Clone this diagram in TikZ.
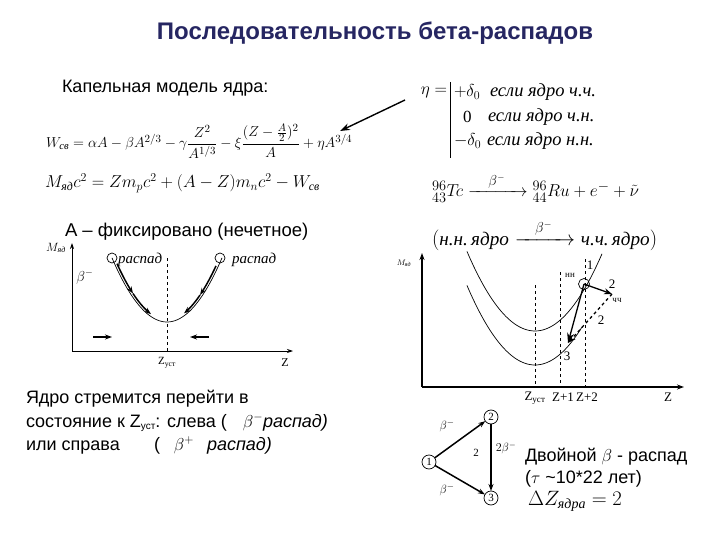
\documentclass[tikz,border=0pt]{standalone}
\usepackage{amsmath}
\usepackage{fontspec}
\setmainfont{Liberation Serif}
\newfontfamily\arial{Liberation Sans}
\usetikzlibrary{arrows.meta}
\definecolor{titlecol}{RGB}{38,38,98}
\newcommand\fsz[1]{\fontsize{#1}{#1}\selectfont}
\tikzset{
  sanstxt/.style={anchor=west,font={\arial\fsz{18}}},
  basetxt/.style={anchor=base west,font={\arial\fsz{18}}},
  mathtxt/.style={font=\fsz{#1}},
  thinaxis/.style={line width=0.8pt,-{Stealth[length=6pt,width=4pt]}},
  thickaxis/.style={line width=1.6pt,-{Stealth[length=7pt,width=5pt]}},
  dec/.style={line width=1.5pt,-{Stealth[length=7pt,width=5pt]}},
  guide/.style={dashed,line width=0.6pt},
  curve/.style={line width=0.7pt},
  dot/.style={circle,draw,line width=0.7pt,minimum size=10pt,inner sep=0pt},
  tnode/.style={circle,draw,line width=0.7pt,minimum size=14pt,inner sep=0pt,font=\fsz{11}},
}
\begin{document}
\begin{tikzpicture}[x=1pt,y=-1pt,every node/.style={inner sep=0pt,outer sep=0pt}]
\useasboundingbox (0,0) rectangle (720,540);
% title
\node[font={\arial\bfseries\fsz{24}},text=titlecol] (title) at (375,33) {Последовательность бета-распадов};
% droplet model
\node[sanstxt] (kap) at (62,88) {Капельная модель ядра:};
\node[anchor=west,mathtxt=15.2] (wf) at (46,141) {$W_{\text{\itshape св}} = \alpha A - \beta A^{2/3} - \gamma\dfrac{Z^2}{A^{1/3}} - \xi\dfrac{(Z-\frac{A}{2})^2}{A} + \eta A^{3/4}$};
\node[anchor=west,mathtxt=17] (mf) at (45,183) {$M_{\text{\itshape яд}}c^2 = Zm_pc^2 + (A-Z)m_nc^2 - W_{\text{\itshape св}}$};
\coordinate (etaTail) at (405,100);
\coordinate (etaHead) at (340,131);
\draw[line width=1.4pt,-{Stealth[length=10pt,width=7pt]}] (etaTail) -- (etaHead);
% eta cases
\node[anchor=east,mathtxt=18] (eta) at (447,92) {$\eta =$};
\draw[line width=0.7pt] (450,82) -- (450,158);
\node[anchor=west,mathtxt=17] (r1a) at (454,92) {$+\delta_0$};
\node[anchor=west,mathtxt=18.5] (r1b) at (490,92) {\itshape если ядро ч.ч.};
\node[anchor=west,mathtxt=17] (r2a) at (463,117) {0};
\node[anchor=west,mathtxt=18.5] (r2b) at (488,117) {\itshape если ядро ч.н.};
\node[anchor=west,mathtxt=17] (r3a) at (454,141) {$-\delta_0$};
\node[anchor=west,mathtxt=18.5] (r3b) at (487,141) {\itshape если ядро н.н.};
% reactions
\node[anchor=west,mathtxt=19] (tc) at (432,188) {${}^{96}_{43}T\!c \xrightarrow{\hphantom{xx}\beta^{-}\hphantom{xx}} {}^{96}_{44}Ru + e^{-} + \tilde{\nu}$};
\node[anchor=west,mathtxt=19.2] (nn) at (432,235) {$(\text{\itshape н.н.\,ядро}\xrightarrow{\hphantom{xx}\beta^{-}\hphantom{xx}}\text{\itshape ч.ч.\,ядро})$};
% left graph
\node[sanstxt,font={\arial\fsz{18.5}}] (afix) at (65,232) {А – фиксировано (нечетное)};
\coordinate (lo) at (72,351);
\coordinate (ly) at (72,243);
\coordinate (lx) at (293,351);
\draw[thinaxis] (lo) -- (ly);
\draw[thinaxis] (lo) -- (lx);
\node[mathtxt=12] (lm) at (56,248) {$M_{\text{\itshape яд}}$};
\node[mathtxt=11] (lzu) at (167,363) {Z\textsubscript{уст}};
\node[mathtxt=12] (lz) at (285,363) {Z};
\node[mathtxt=14] (lb) at (85,277) {$\beta^{-}$};
\draw[guide] (167,258) -- (167,351);
\draw[curve] plot[domain=112:222,samples=60] (\x,{322-0.0212*(\x-167)^2});
\node[dot] (lc1) at (112,258) {};
\node[dot] (lc2) at (220,258) {};
\node[anchor=west,mathtxt=15] (lr1) at (118,260) {\itshape распад};
\node[anchor=west,mathtxt=15] (lr2) at (232,260) {\itshape распад};
\draw[dec] plot[domain=115:131,samples=10] ({\x+2},{322-0.0212*(\x-167)^2-1});
\draw[dec] plot[domain=131:149,samples=10] ({\x+2},{322-0.0212*(\x-167)^2-1});
\draw[dec] plot[domain=218:202,samples=10] ({\x-2},{322-0.0212*(\x-167)^2-1});
\draw[dec] plot[domain=202:186,samples=10] ({\x-2},{322-0.0212*(\x-167)^2-1});
\coordinate (ha1) at (93,337); \coordinate (ha2) at (112,337);
\coordinate (hb1) at (209,337); \coordinate (hb2) at (190,337);
\draw[dec] (ha1) -- (ha2);
\draw[dec] (hb1) -- (hb2);
% right graph
\coordinate (ro) at (422,387);
\coordinate (ry) at (422,253);
\coordinate (rx) at (684,387);
\draw[thickaxis] (ro) -- (ry);
\draw[thickaxis] (ro) -- (rx);
\node[mathtxt=8] (rm) at (404,263) {$M_{\text{\itshape яд}}$};
\node[mathtxt=13] (rzu) at (535,398) {Z\textsubscript{уст}};
\node[mathtxt=13] (rz1) at (563,397) {Z+1};
\node[mathtxt=13] (rz2) at (587,397) {Z+2};
\node[mathtxt=13] (rz) at (668,397) {Z};
\draw[guide] (535,285) -- (535,387);
\draw[guide] (560,272) -- (560,387);
\draw[guide] (585,259) -- (585,387);
\draw[curve] plot[domain=467:602,samples=60] (\x,{331-0.0172*(\x-535)^2});
\draw[curve] plot[domain=467:582,samples=60] (\x,{365-0.0172*(\x-535)^2});
\node[dot,minimum size=11pt] (p1) at (584,284) {};
\coordinate (p2) at (612,294);
\coordinate (p3) at (568,343);
\draw[line width=1.3pt,-{Stealth[length=8pt,width=6pt]}] (p1.center) -- (p2);
\draw[line width=1.3pt,-{Stealth[length=10pt,width=7pt]}] (p1.center) -- (p3);
\draw[line width=1.3pt,dashed,-{Stealth[length=8pt,width=6pt]}] (p2) -- (p3);
\node[mathtxt=13] (l1) at (590,265) {1};
\node[mathtxt=9] (lnn) at (570,275) {нн};
\node[mathtxt=13] (l2a) at (612,284) {2};
\node[mathtxt=9] (lcc) at (617,300) {чч};
\node[mathtxt=13] (l2b) at (601,320) {2};
\node[mathtxt=13] (l3) at (567,356) {3};
% bottom-left text
\node[basetxt] (t1) at (26,403) {Ядро стремится перейти в};
\node[basetxt] (t2) at (26,427) {состояние к Z\raisebox{-2pt}{\fsz{10}уст}: слева (};
\node[anchor=base,mathtxt=17] (t2b) at (253,427) {$\beta^{-}$};
\node[basetxt] (t2c) at (263,427) {\itshape распад)};
\node[basetxt] (t3) at (26,450) {или справа};
\node[basetxt] (t3a) at (154,450) {(};
\node[anchor=base,mathtxt=17] (t3b) at (184,450) {$\beta^{+}$};
\node[basetxt] (t3c) at (207,450) {\itshape распад)};
% triangle
\node[tnode] (n1) at (429,462) {1};
\node[tnode] (n2) at (491,417) {2};
\node[tnode] (n3) at (491,498) {3};
\draw[dec] (n1) -- (n2);
\draw[dec] (n2) -- (n3);
\draw[dec] (n1) -- (n3);
\node[mathtxt=13] (b12) at (447,426) {$\beta^{-}$};
\node[mathtxt=11] (t2t) at (476,453) {2};
\node[mathtxt=12] (b23) at (506,448) {$2\beta^{-}$};
\node[mathtxt=13] (b13) at (447,490) {$\beta^{-}$};
% double beta text
\node[sanstxt] (d1) at (525,457) {Двойной {\rmfamily$\beta$} - распад};
\node[sanstxt] (d2) at (525,479) {({\rmfamily$\tau$} \textasciitilde10*22 лет)};
\node[anchor=west,mathtxt=20] (d3) at (528,501) {$\Delta Z_{\text{\itshape ядра}} = 2$};
\end{tikzpicture}
\end{document}
